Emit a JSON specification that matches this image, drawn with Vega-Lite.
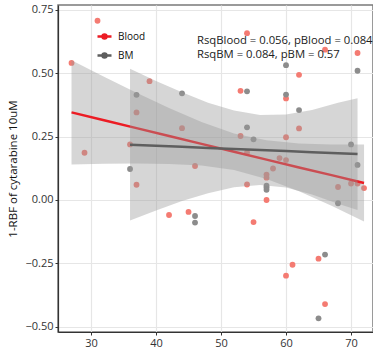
{
  "$schema": "https://vega.github.io/schema/vega-lite/v6.json",
  "width": 315,
  "height": 327,
  "autosize": {"type": "none"},
  "padding": {"left": 58, "top": 5, "right": 0, "bottom": 22},
  "background": "white",
  "config": {
    "font": "Open Sans",
    "view": {"stroke": "#7a7a7a", "strokeWidth": 1.5},
    "axis": {
      "domainColor": "#333333",
      "domainWidth": 1.2,
      "gridColor": "#E6E6E6",
      "gridWidth": 1.2,
      "labelColor": "#333333",
      "labelFontSize": 11,
      "titleFontSize": 11.5,
      "titleFontWeight": "normal",
      "titleColor": "#111111",
      "labelPadding": 2
    }
  },
  "datasets": {
    "points": [
      {"group": "Blood", "age": 31, "rbf": 0.706},
      {"group": "Blood", "age": 27, "rbf": 0.54},
      {"group": "Blood", "age": 39, "rbf": 0.468},
      {"group": "Blood", "age": 37, "rbf": 0.345},
      {"group": "Blood", "age": 29, "rbf": 0.186},
      {"group": "Blood", "age": 36, "rbf": 0.219},
      {"group": "Blood", "age": 37, "rbf": 0.06},
      {"group": "Blood", "age": 53, "rbf": 0.43},
      {"group": "Blood", "age": 54, "rbf": 0.657},
      {"group": "Blood", "age": 62, "rbf": 0.493},
      {"group": "Blood", "age": 66, "rbf": 0.592},
      {"group": "Blood", "age": 71, "rbf": 0.579},
      {"group": "Blood", "age": 60, "rbf": 0.40},
      {"group": "Blood", "age": 44, "rbf": 0.283},
      {"group": "Blood", "age": 53, "rbf": 0.252},
      {"group": "Blood", "age": 46, "rbf": 0.134},
      {"group": "Blood", "age": 54, "rbf": 0.187},
      {"group": "Blood", "age": 54, "rbf": 0.061},
      {"group": "Blood", "age": 57, "rbf": 0.0},
      {"group": "Blood", "age": 42, "rbf": -0.059},
      {"group": "Blood", "age": 45, "rbf": -0.047},
      {"group": "Blood", "age": 55, "rbf": -0.087},
      {"group": "Blood", "age": 62, "rbf": 0.282},
      {"group": "Blood", "age": 60, "rbf": 0.247},
      {"group": "Blood", "age": 59, "rbf": 0.165},
      {"group": "Blood", "age": 60, "rbf": 0.157},
      {"group": "Blood", "age": 58, "rbf": 0.124},
      {"group": "Blood", "age": 57, "rbf": 0.100},
      {"group": "Blood", "age": 57, "rbf": 0.088},
      {"group": "Blood", "age": 68, "rbf": 0.051},
      {"group": "Blood", "age": 70, "rbf": 0.065},
      {"group": "Blood", "age": 71, "rbf": 0.065},
      {"group": "Blood", "age": 72, "rbf": 0.047},
      {"group": "Blood", "age": 61, "rbf": -0.255},
      {"group": "Blood", "age": 60, "rbf": -0.298},
      {"group": "Blood", "age": 65, "rbf": -0.231},
      {"group": "Blood", "age": 66, "rbf": -0.41},
      {"group": "BM", "age": 37, "rbf": 0.414},
      {"group": "BM", "age": 36, "rbf": 0.122},
      {"group": "BM", "age": 44, "rbf": 0.42},
      {"group": "BM", "age": 54, "rbf": 0.428},
      {"group": "BM", "age": 60, "rbf": 0.531},
      {"group": "BM", "age": 71, "rbf": 0.509},
      {"group": "BM", "age": 60, "rbf": 0.415},
      {"group": "BM", "age": 62, "rbf": 0.354},
      {"group": "BM", "age": 54, "rbf": 0.286},
      {"group": "BM", "age": 55, "rbf": 0.239},
      {"group": "BM", "age": 46, "rbf": -0.063},
      {"group": "BM", "age": 46, "rbf": -0.089},
      {"group": "BM", "age": 57, "rbf": 0.056},
      {"group": "BM", "age": 57, "rbf": 0.049},
      {"group": "BM", "age": 57, "rbf": 0.040},
      {"group": "BM", "age": 70, "rbf": 0.219},
      {"group": "BM", "age": 71, "rbf": 0.138},
      {"group": "BM", "age": 68, "rbf": -0.013},
      {"group": "BM", "age": 66, "rbf": -0.215},
      {"group": "BM", "age": 65, "rbf": -0.466}
    ],
    "fits": [
      {"group": "Blood", "age": 27, "fit": 0.345, "lo": 0.140, "hi": 0.550},
      {"group": "Blood", "age": 32, "fit": 0.314, "lo": 0.143, "hi": 0.485},
      {"group": "Blood", "age": 37, "fit": 0.283, "lo": 0.144, "hi": 0.422},
      {"group": "Blood", "age": 42, "fit": 0.252, "lo": 0.142, "hi": 0.362},
      {"group": "Blood", "age": 47, "fit": 0.221, "lo": 0.136, "hi": 0.307},
      {"group": "Blood", "age": 52, "fit": 0.190, "lo": 0.118, "hi": 0.262},
      {"group": "Blood", "age": 57, "fit": 0.159, "lo": 0.083, "hi": 0.235},
      {"group": "Blood", "age": 62, "fit": 0.128, "lo": 0.034, "hi": 0.222},
      {"group": "Blood", "age": 67, "fit": 0.098, "lo": -0.023, "hi": 0.219},
      {"group": "Blood", "age": 72, "fit": 0.067, "lo": -0.085, "hi": 0.219},
      {"group": "BM", "age": 36, "fit": 0.218, "lo": -0.081, "hi": 0.517},
      {"group": "BM", "age": 40, "fit": 0.214, "lo": -0.041, "hi": 0.469},
      {"group": "BM", "age": 44, "fit": 0.2095, "lo": -0.004, "hi": 0.424},
      {"group": "BM", "age": 48, "fit": 0.205, "lo": 0.027, "hi": 0.383},
      {"group": "BM", "age": 52, "fit": 0.201, "lo": 0.050, "hi": 0.352},
      {"group": "BM", "age": 56, "fit": 0.197, "lo": 0.059, "hi": 0.335},
      {"group": "BM", "age": 60, "fit": 0.193, "lo": 0.049, "hi": 0.337},
      {"group": "BM", "age": 64, "fit": 0.188, "lo": 0.022, "hi": 0.354},
      {"group": "BM", "age": 68, "fit": 0.184, "lo": -0.015, "hi": 0.383},
      {"group": "BM", "age": 71, "fit": 0.181, "lo": -0.039, "hi": 0.401}
    ],
    "notes": [
      {"age": 46.3, "rbf": 0.627, "label": "RsqBlood = 0.056, pBlood = 0.084"},
      {"age": 46.3, "rbf": 0.571, "label": "RsqBM = 0.084, pBM = 0.57"}
    ]
  },
  "layer": [
    {
      "data": {"name": "points"},
      "transform": [{"filter": "datum.group == 'Blood'"}],
      "mark": {"type": "point", "filled": true, "size": 34, "opacity": 1, "strokeWidth": 0, "fill": "#F47B72"},
      "encoding": {
        "x": {
          "field": "age", "type": "quantitative",
          "scale": {"domain": [24.92, 73.38], "nice": false, "zero": false},
          "axis": {
            "title": null,
            "values": [30, 35, 40, 45, 50, 55, 60, 65, 70],
            "labelExpr": "datum.value % 10 == 0 ? datum.label : ''",
            "tickSize": 3,
            "tickColor": {"condition": {"test": "datum.value % 10 == 0", "value": "#333333"}, "value": "transparent"}
          }
        },
        "y": {
          "field": "rbf", "type": "quantitative",
          "scale": {"domain": [-0.520, 0.768], "nice": false, "zero": false},
          "axis": {
            "title": "1-RBF of cytarabine 10uM",
            "values": [-0.5, -0.375, -0.25, -0.125, 0, 0.125, 0.25, 0.375, 0.5, 0.625, 0.75],
            "format": ".2f",
            "labelExpr": "abs(datum.value*4 - round(datum.value*4)) < 0.001 ? datum.label : ''",
            "tickSize": 3,
            "tickColor": {"condition": {"test": "abs(datum.value*4 - round(datum.value*4)) < 0.001", "value": "#333333"}, "value": "transparent"},
            "titlePadding": 6
          }
        }
      }
    },
    {
      "data": {"name": "points"},
      "transform": [{"filter": "datum.group == 'BM'"}],
      "mark": {"type": "point", "filled": true, "size": 34, "opacity": 1, "strokeWidth": 0, "fill": "#8C8C8C"},
      "encoding": {
        "x": {"field": "age", "type": "quantitative"},
        "y": {"field": "rbf", "type": "quantitative", "title": "1-RBF of cytarabine 10uM"}
      }
    },
    {
      "data": {"name": "fits"},
      "transform": [{"filter": "datum.group == 'Blood'"}],
      "mark": {"type": "area", "fill": "#999999", "opacity": 0.4},
      "encoding": {
        "x": {"field": "age", "type": "quantitative"},
        "y": {"field": "lo", "type": "quantitative", "title": "1-RBF of cytarabine 10uM"},
        "y2": {"field": "hi"}
      }
    },
    {
      "data": {"name": "fits"},
      "transform": [{"filter": "datum.group == 'Blood'"}],
      "mark": {"type": "line", "strokeWidth": 2.5},
      "encoding": {
        "x": {"field": "age", "type": "quantitative"},
        "y": {"field": "fit", "type": "quantitative", "title": "1-RBF of cytarabine 10uM"},
        "color": {
          "field": "group", "type": "nominal",
          "scale": {"domain": ["Blood", "BM"], "range": ["#EC1C24", "#5E5E5E"]},
          "legend": {
            "title": null, "orient": "none", "legendX": 38, "legendY": 23, "padding": 0,
            "symbolType": "M-1,0H1M-0.28,0A0.28,0.28 0 1,0 0.28,0A0.28,0.28 0 1,0 -0.28,0Z",
            "symbolSize": 196, "symbolStrokeWidth": 2.5,
            "labelFontSize": 10, "labelColor": "#111111", "labelOffset": 5, "rowPadding": 3
          }
        }
      }
    },
    {
      "data": {"name": "fits"},
      "transform": [{"filter": "datum.group == 'BM'"}],
      "mark": {"type": "area", "fill": "#999999", "opacity": 0.4},
      "encoding": {
        "x": {"field": "age", "type": "quantitative"},
        "y": {"field": "lo", "type": "quantitative", "title": "1-RBF of cytarabine 10uM"},
        "y2": {"field": "hi"}
      }
    },
    {
      "data": {"name": "fits"},
      "transform": [{"filter": "datum.group == 'BM'"}],
      "mark": {"type": "line", "strokeWidth": 2.5},
      "encoding": {
        "x": {"field": "age", "type": "quantitative"},
        "y": {"field": "fit", "type": "quantitative", "title": "1-RBF of cytarabine 10uM"},
        "color": {
          "field": "group", "type": "nominal",
          "scale": {"domain": ["Blood", "BM"], "range": ["#EC1C24", "#5E5E5E"]},
          "legend": {
            "title": null, "orient": "none", "legendX": 38, "legendY": 23, "padding": 0,
            "symbolType": "M-1,0H1M-0.28,0A0.28,0.28 0 1,0 0.28,0A0.28,0.28 0 1,0 -0.28,0Z",
            "symbolSize": 196, "symbolStrokeWidth": 2.5,
            "labelFontSize": 10, "labelColor": "#111111", "labelOffset": 5, "rowPadding": 3
          }
        }
      }
    },
    {
      "data": {"name": "notes"},
      "mark": {"type": "text", "align": "left", "baseline": "middle", "fontSize": 11.3, "color": "#222222"},
      "encoding": {
        "x": {"field": "age", "type": "quantitative"},
        "y": {"field": "rbf", "type": "quantitative", "title": "1-RBF of cytarabine 10uM"},
        "text": {"field": "label", "type": "nominal"}
      }
    }
  ]
}
